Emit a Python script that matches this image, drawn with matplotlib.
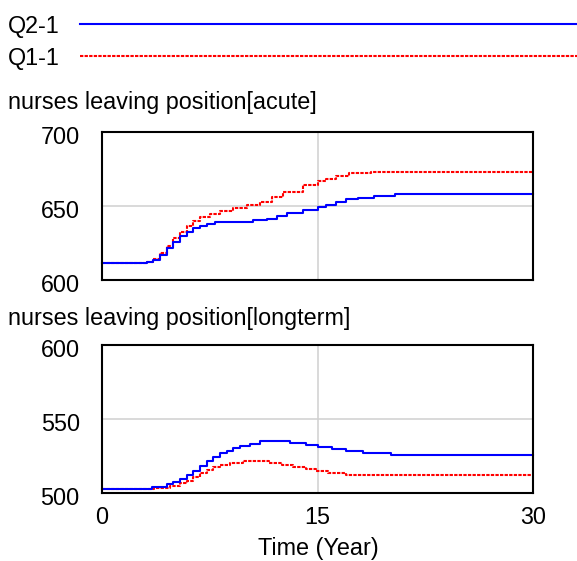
import matplotlib
matplotlib.use("Agg")
import matplotlib.pyplot as plt
from matplotlib.lines import Line2D
import matplotlib.transforms as mtransforms

# ---- data ----
series_names = ["Q2-1", "Q1-1"]
x_ticks = [0, 15, 30]
acute_ticks = [600, 650, 700]
longterm_ticks = [500, 550, 600]

acute_q2_t = [0, 3.1, 3.57, 4.04, 4.5, 4.96, 5.43, 5.89, 6.35, 6.82, 7.28, 7.86, 10.5, 11.46,
              12.2, 12.9, 14, 15, 15.6, 16.3, 17, 17.8, 18.9, 20.4, 30]
acute_q2_v = [611.7, 612.5, 613.5, 616.9, 621.4, 625.9, 629.7, 632.6, 634.9, 636.7, 638,
              639.4, 640.5, 641.4, 643.2, 645, 647, 649.3, 651, 653, 654.5, 655.6, 656.8,
              658.3, 658.3]

acute_q1_t = [0, 3.1, 3.57, 4.04, 4.5, 4.96, 5.43, 5.89, 6.35, 6.82, 7.5, 8.2, 9.1, 10.1,
              11.0, 11.8, 12.6, 14, 15, 15.6, 16.3, 17.2, 18.7, 30]
acute_q1_v = [611.7, 612.5, 613.9, 618, 623, 628.2, 632.6, 636.7, 639.9, 642.3, 644.6,
              646.6, 648.4, 650.9, 652.9, 656, 659.7, 664, 667, 668.5, 670.3, 672, 673.2,
              673.2]

long_q2_t = [0, 3.45, 4.5, 4.96, 5.43, 5.89, 6.35, 6.82, 7.28, 7.75, 8.21, 8.7, 9.14, 9.6,
             10.3, 11.0, 13.1, 14.2, 15, 16, 17, 18.2, 20.1, 30]
long_q2_v = [503.0, 504.3, 505.8, 507.6, 509.2, 512.2, 515.1, 518.2, 521.8, 524.5, 526.8,
             528.6, 530.2, 531.8, 533.4, 535.2, 533.9, 532.3, 531.2, 529.8, 528.4, 527,
             525.7, 525.7]

long_q1_t = [0, 3.6, 4.73, 5.43, 5.89, 6.35, 6.82, 7.28, 7.75, 8.21, 8.9, 9.8, 11.6, 12.5,
             13.3, 14.2, 14.9, 15.7, 17, 30]
long_q1_v = [503.0, 503.5, 504.7, 506.5, 508.3, 511, 513.3, 515.5, 517.3, 518.9, 520.5,
             521.7, 520.4, 518.7, 517.6, 516.5, 514.9, 513.5, 512.2, 512.2]

titles = ["nurses leaving position[acute]", "nurses leaving position[longterm]"]
x_label = "Time (Year)"

# ---- style ----
plt.rcParams['font.family'] = ['Liberation Sans', 'DejaVu Sans']
FS = 16.8
BLUE = "#0000ff"
RED = "#ff0000"
RED_DASH = (0, (1.6, 0.6))
LW = 1.5

W, H = 577, 561
fig = plt.figure(figsize=(W / 100, H / 100), dpi=100)


def fx(px):
    return px / W


def fy(py):
    return 1 - py / H


ax1 = fig.add_axes([fx(102), fy(280), fx(533) - fx(102), fy(132) - fy(280)])
ax2 = fig.add_axes([fx(102), fy(493), fx(533) - fx(102), fy(345) - fy(493)])

panels = [
    (ax1, acute_q2_t, acute_q2_v, acute_q1_t, acute_q1_v, acute_ticks),
    (ax2, long_q2_t, long_q2_v, long_q1_t, long_q1_v, longterm_ticks),
]

for ax, t2, v2, t1, v1, yt in panels:
    ax.plot(t1, v1, drawstyle='steps-post', color=RED, lw=LW, linestyle=RED_DASH, zorder=3,
            clip_on=False)
    ax.plot(t2, v2, drawstyle='steps-post', color=BLUE, lw=LW, zorder=4, clip_on=False)
    ax.set_xlim(x_ticks[0], x_ticks[-1])
    ax.set_ylim(yt[0], yt[-1])
    ax.set_xticks(x_ticks)
    ax.set_yticks(yt)
    ax.grid(True, color="#d0d0d0", lw=1.1, zorder=1)
    ax.tick_params(length=0, labelsize=FS, pad=16, axis='y')
    ax.tick_params(length=0, labelsize=FS, pad=9, axis='x')
    for s in ax.spines.values():
        s.set_linewidth(1.5)
        s.set_color("black")
        s.set_zorder(5)
    off = mtransforms.ScaledTranslation(0, -3 / 100, fig.dpi_scale_trans)
    for lab in ax.get_yticklabels():
        lab.set_transform(lab.get_transform() + off)

ax1.tick_params(axis='x', labelbottom=False)

# titles
fig.text(fx(8), fy(103), titles[0], fontsize=FS, va='center', ha='left')
fig.text(fx(8), fy(318), titles[1], fontsize=FS, va='center', ha='left')
fig.text(fx(318), fy(549), x_label, fontsize=FS, va='center', ha='center')

# legend at top
fig.text(fx(8), fy(27), series_names[0], fontsize=FS, va='center', ha='left')
fig.text(fx(8), fy(58), series_names[1], fontsize=FS, va='center', ha='left')
fig.add_artist(Line2D([fx(80), 1.0], [fy(24), fy(24)], color=BLUE, lw=LW,
                      transform=fig.transFigure))
fig.add_artist(Line2D([fx(80), 1.0], [fy(56), fy(56)], color=RED, lw=LW, linestyle=RED_DASH,
                      transform=fig.transFigure))

fig.savefig("out.png", dpi=100)
